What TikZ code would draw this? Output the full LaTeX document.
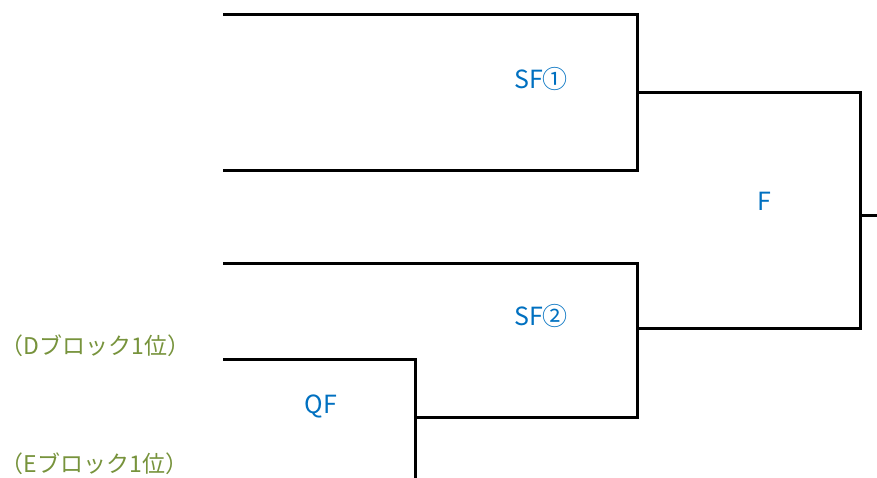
\documentclass[tikz,border=0pt]{standalone}
\usepackage{fontspec}
\setmainfont{Noto Sans CJK JP}
\definecolor{lblue}{HTML}{0070C0}
\definecolor{lgreen}{HTML}{77933C}
\begin{document}
\begin{tikzpicture}[x=1pt,y=-1pt,
  bline/.style={line width=3pt, black, line cap=rect},
  mlabel/.style={text=lblue, font=\fontsize{25}{28}\selectfont, inner sep=0pt},
  tlabel/.style={text=lgreen, font=\fontsize{23}{26}\selectfont, inner sep=0pt, anchor=west}]
\useasboundingbox (0,0) rectangle (877,477);
% coordinates
\coordinate (s1a) at (224,14.5);
\coordinate (s1b) at (637.5,14.5);
\coordinate (s1c) at (637.5,170);
\coordinate (s1d) at (224,170);
\coordinate (s1o) at (637.5,92);
\coordinate (fa) at (860,92);
\coordinate (fb) at (860,328);
\coordinate (fo) at (860,215);
\coordinate (fe) at (877,215);
\coordinate (s2a) at (224,263);
\coordinate (s2b) at (637.5,263);
\coordinate (s2c) at (637.5,417);
\coordinate (s2o) at (637.5,328);
\coordinate (qa) at (224,359);
\coordinate (qb) at (415,359);
\coordinate (qc) at (415,477);
\coordinate (qo) at (415,417);
% lines
\draw[bline] (s1a) -- (s1b) -- (s1c) -- (s1d);
\draw[bline] (s1o) -- (fa) -- (fb) -- (s2o);
\draw[bline] (fo) -- (fe);
\draw[bline] (s2a) -- (s2b) -- (s2c) -- (qo);
\draw[bline] (qa) -- (qb) -- (qc);
% labels
\node[mlabel] (sf1) at (541,79) {SF①};
\node[mlabel] (sf2) at (541,316) {SF②};
\node[mlabel] (qf) at (321,406) {QF};
\node[mlabel] (f) at (764,201) {F};
\node[tlabel] (d1) at (0.5,346) {（Dブロック1位）};
\node[tlabel] (e1) at (0.5,464) {（Eブロック1位）};
\end{tikzpicture}
\end{document}
